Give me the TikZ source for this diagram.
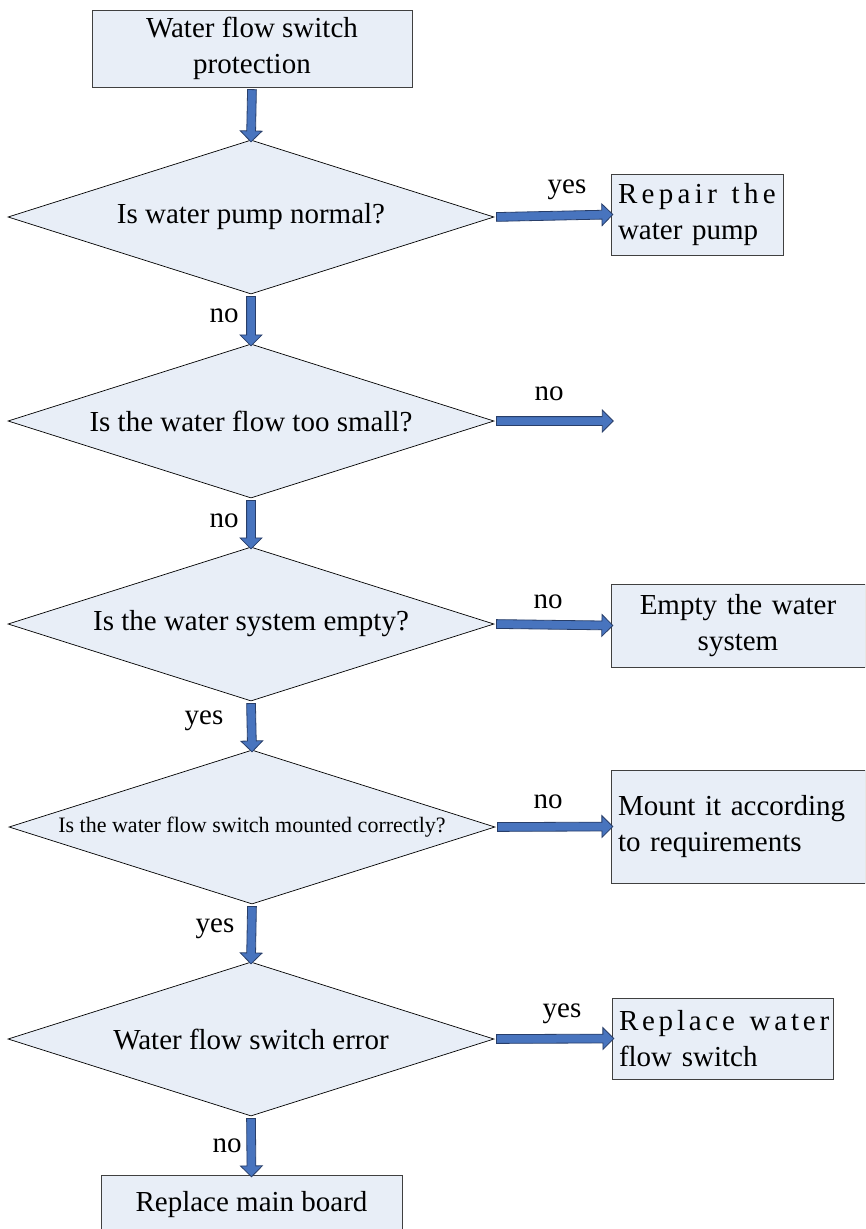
\documentclass[tikz,border=0pt]{standalone}
\usepackage{fontspec}
\setmainfont{Liberation Serif}
\usetikzlibrary{shapes.geometric,shapes.arrows,calc}
\definecolor{boxfill}{RGB}{232,238,247}
\definecolor{arrfill}{RGB}{72,116,190}
\definecolor{arredge}{RGB}{40,62,105}
\definecolor{boxedge}{RGB}{64,64,64}
\newcommand\blockarrow[3]{\path let \p1=($(#2)-(#1)$), \n1={veclen(\x1,\y1)} in (#1) -- (#2) node[midway,sloped,allow upside down,barrow,minimum height=\n1] (#3) {};}
\newcommand\spaced[2]{{\addfontfeature{LetterSpace=#1}#2}}
\tikzset{
  barrow/.style={single arrow,draw=arredge,fill=arrfill,line width=0.8pt,inner xsep=0pt,inner ysep=4pt,
    single arrow head extend=6.5pt,single arrow tip angle=90},
  dec/.style={diamond,draw=black,fill=boxfill,line width=0.7pt,inner sep=0pt,aspect=3.156,
    minimum width=486pt,minimum height=154pt},
  procbox/.style={rectangle,draw=boxedge,fill=boxfill,line width=0.8pt,inner xsep=7pt,inner ysep=2pt},
  lbl/.style={inner sep=0pt}
}
\begin{document}
\begin{tikzpicture}[x=1pt,y=-1pt,font=\fontsize{29}{36}\selectfont]
\useasboundingbox (0,0) rectangle (865,1229);
\clip (0,0) rectangle (865,1229);
% boxes
\node[procbox,minimum width=320pt,minimum height=77pt,align=center] (start) at (252,48.5) {Water flow switch\\protection};
\node[dec] (d1) at (251,217) {Is water pump normal?};
\node[dec] (d2) at (251,421) {Is the water flow too small?};
\node[dec] (d3) at (251,624) {Is the water system empty?};
\node[dec,font=\fontsize{22}{26}\selectfont] (d4) at (252,827) {Is the water flow switch mounted correctly?};
\node[dec] (d5) at (251,1039) {Water flow switch error};
\node[procbox,minimum width=172pt,minimum height=81pt,text width=158pt,align=left] (b1) at (697,214.5) {\spaced{15}{Repair\hspace{5pt} the}\\water pump};
\coordinate (e2) at (611,421);
\node[procbox,minimum width=254pt,minimum height=83pt,text width=240pt,align=center] (b3) at (738,625.5) {Empty the water\\system};
\node[procbox,minimum width=254pt,minimum height=113pt,text width=240pt,align=left] (b4) at (738,826.5) {Mount it according\\to requirements};
\node[procbox,minimum width=221pt,minimum height=81pt,text width=207pt,align=left] (b5) at (722.5,1038.5) {\spaced{13}{Replace\hspace{5pt} water}\\flow switch};
\node[procbox,minimum width=301pt,minimum height=60pt,align=center] (end) at (251.5,1205) {Replace main board};
% arrows
\blockarrow{start.south}{d1.north}{a1}
\blockarrow{d1.east}{b1.west}{a2}
\blockarrow{d1.south}{d2.north}{a3}
\blockarrow{d2.east}{e2}{a4}
\blockarrow{d2.south}{d3.north}{a5}
\blockarrow{d3.east}{b3.west}{a6}
\blockarrow{d3.south}{d4.north}{a7}
\blockarrow{d4.east}{b4.west}{a8}
\blockarrow{d4.south}{d5.north}{a9}
\blockarrow{d5.east}{b5.west}{a10}
\blockarrow{d5.south}{end.north}{a11}
% labels
\node[lbl] (l1) at (567,190) {yes};
\node[lbl] (l2) at (224,316) {no};
\node[lbl] (l3) at (549,394) {no};
\node[lbl] (l4) at (224,521) {no};
\node[lbl] (l5) at (548,602) {no};
\node[lbl] (l6) at (204,721) {yes};
\node[lbl] (l7) at (548,802) {no};
\node[lbl] (l8) at (215,929) {yes};
\node[lbl] (l9) at (562,1014) {yes};
\node[lbl] (l10) at (227,1146) {no};
\end{tikzpicture}
\end{document}
